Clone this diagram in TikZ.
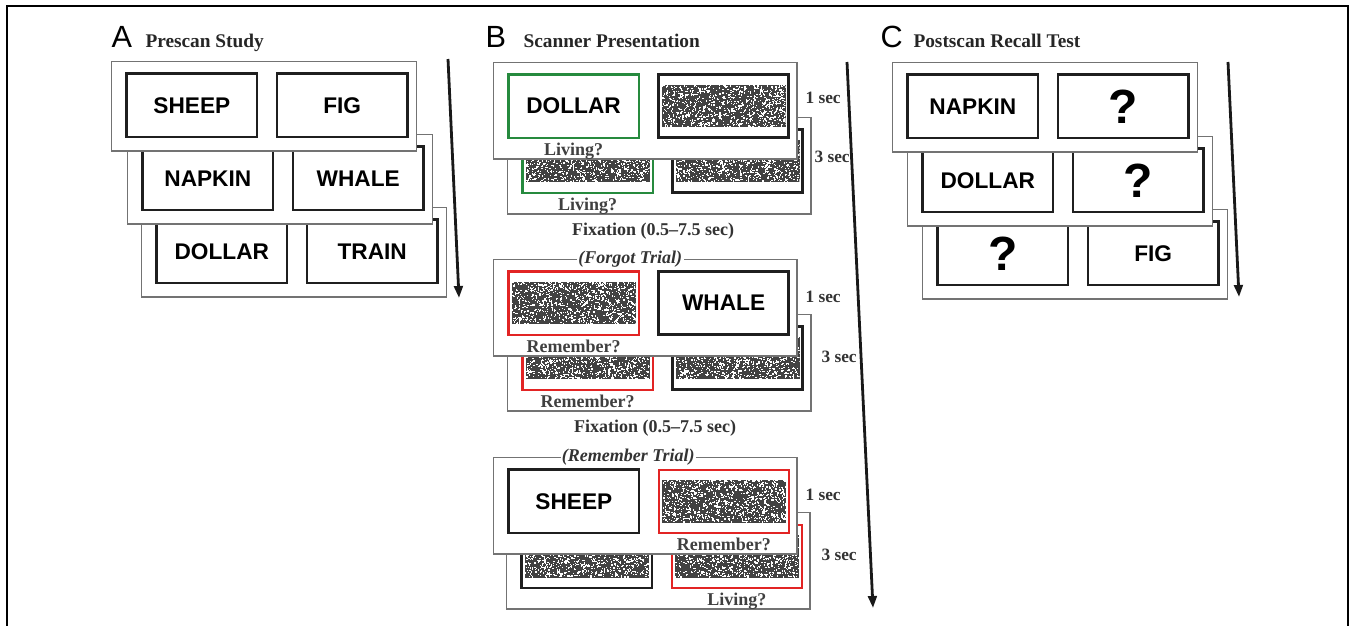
\documentclass[tikz,border=0pt]{standalone}
\usepackage{fontspec}
\setmainfont{Liberation Serif}
\setsansfont{Liberation Sans}
\usetikzlibrary{positioning,arrows.meta}

\definecolor{cuegreen}{RGB}{38,138,62}
\definecolor{cuered}{RGB}{226,36,36}

\tikzset{every picture/.style={line width=0.75pt},
  studycard/.style={draw=black!55, line width=0.9pt, fill=white, anchor=north west, inner sep=0pt, minimum width=228.5pt, minimum height=67pt},
  scancard/.style={studycard, minimum width=227.5pt, minimum height=72.25pt},
  wordbox/.style={draw=black!88, line width=2.1pt, fill=white, inner sep=0pt, minimum width=97.75pt, minimum height=47.5pt, font=\sffamily\bfseries\fontsize{17}{17}\selectfont},
  livingbox/.style={wordbox, draw=cuegreen, line width=1.7pt},
  memorybox/.style={wordbox, draw=cuered, line width=1.7pt},
  query/.style={font=\sffamily\bfseries\fontsize{36}{36}\selectfont},
  noise/.style={minimum width=93pt, minimum height=32pt, inner sep=0pt, fill=black!74,
    path picture={
      \foreach \k in {1,...,950}{
        \pgfmathsetmacro\nx{rnd*93}
        \pgfmathsetmacro\ny{rnd*32}
        \fill[white] ([shift={(\nx pt,\ny pt)}]path picture bounding box.south west) rectangle ++(0.95pt,0.95pt);
      }
    }},
  cue/.style={font=\bfseries\fontsize{13.5}{14}\selectfont, text=black!75, inner sep=0.5pt},
  triallabel/.style={font=\bfseries\itshape\fontsize{13.5}{14}\selectfont, text=black!80, fill=white, inner sep=1pt},
  timing/.style={anchor=base west, font=\bfseries\fontsize{13}{13}\selectfont, text=black!80, inner sep=0pt},
  panel/.style={anchor=base west, font=\sffamily\fontsize{23}{23}\selectfont, inner sep=0pt},
  paneltitle/.style={anchor=base west, font=\bfseries\fontsize{14.5}{15}\selectfont, text=black!85, inner sep=0pt},
  timeline/.style={line width=2.1pt, black!90, -{Triangle[length=9pt,width=6.5pt]}}
}

\begin{document}
\begin{tikzpicture}[x=0.75pt,y=-0.75pt]
\pgfmathsetseed{4711}
\useasboundingbox (0,0) rectangle (1355,625);

% Frame
\draw [line width=1.5pt] (7,626) -- (7,6) -- (1348,6) -- (1348,626);

%% ---------------- A: Prescan Study ----------------
\node [panel] (lblA) at (111,47) {A};
\node [paneltitle] (ttlA) at (145,47) {Prescan Study};

% Card 3
\node [studycard] (a3) at (141,207) {};
\node [wordbox, below right=8.5pt and 10.7pt of a3.north west] (a3l) {DOLLAR};
\node [wordbox, right=12.9pt of a3l] (a3r) {TRAIN};
% Card 2
\node [studycard] (a2) at (127,134) {};
\node [wordbox, below right=8.5pt and 10.7pt of a2.north west] (a2l) {NAPKIN};
\node [wordbox, right=12.9pt of a2l] (a2r) {WHALE};
% Card 1
\node [studycard] (a1) at (111,61) {};
\node [wordbox, below right=8.5pt and 10.7pt of a1.north west] (a1l) {SHEEP};
\node [wordbox, right=12.9pt of a1l] (a1r) {FIG};

% Time arrow
\coordinate (atop) at (448,59);
\coordinate (abot) at (459,298);
\draw [timeline] (atop) -- (abot);

%% ---------------- B: Scanner Presentation ----------------
\node [panel] (lblB) at (485,47) {B};
\node [paneltitle] (ttlB) at (523,47) {Scanner Presentation};

% Living trial, card 2
\node [scancard] (s1b) at (507,117) {};
\node [livingbox, below right=8.5pt and 10.7pt of s1b.north west] (s1bl) {};
\node [noise] (s1bln) at (s1bl) {};
\node [wordbox, right=12.9pt of s1bl] (s1br) {};
\node [noise] (s1brn) at (s1br) {};
\node [cue, below=2pt of s1bl] (s1bq) {Living?};
% Living trial, card 1
\node [scancard] (s1a) at (493,62) {};
\node [livingbox, below right=8.5pt and 10.7pt of s1a.north west] (s1al) {DOLLAR};
\node [wordbox, right=12.9pt of s1al] (s1ar) {};
\node [noise] (s1arn) at (s1ar) {};
\node [cue, below=2pt of s1al] (s1aq) {Living?};

% Forgot trial, card 2
\node [scancard] (s2b) at (507,314) {};
\node [memorybox, below right=8.5pt and 10.7pt of s2b.north west] (s2bl) {};
\node [noise] (s2bln) at (s2bl) {};
\node [wordbox, right=12.9pt of s2bl] (s2br) {};
\node [noise] (s2brn) at (s2br) {};
\node [cue, below=2pt of s2bl] (s2bq) {Remember?};
% Forgot trial, card 1
\node [scancard] (s2a) at (493,259) {};
\node [memorybox, below right=8.5pt and 10.7pt of s2a.north west] (s2al) {};
\node [noise] (s2aln) at (s2al) {};
\node [wordbox, right=12.9pt of s2al] (s2ar) {WHALE};
\node [cue, below=2pt of s2al] (s2aq) {Remember?};
\node [triallabel] (s2t) at ([xshift=-11.25pt]s2a.north) {(Forgot Trial)};

% Remember trial, card 2
\node [scancard] (s3b) at (506,512) {};
\node [wordbox, below right=8.5pt and 10.7pt of s3b.north west] (s3bl) {};
\node [noise] (s3bln) at (s3bl) {};
\node [memorybox, right=12.9pt of s3bl] (s3br) {};
\node [noise] (s3brn) at (s3br) {};
\node [cue, below=2pt of s3br] (s3bq) {Living?};
% Remember trial, card 1
\node [scancard] (s3a) at (493,457) {};
\node [wordbox, below right=8.5pt and 10.7pt of s3a.north west] (s3al) {SHEEP};
\node [memorybox, right=12.9pt of s3al] (s3ar) {};
\node [noise] (s3arn) at (s3ar) {};
\node [cue, below=2pt of s3ar] (s3aq) {Remember?};
\node [triallabel] (s3t) at ([xshift=-12.75pt]s3a.north) {(Remember Trial)};

% Timing
\node [timing] (t1a) at (805,103) {1 sec};
\node [timing] (t1b) at (814,162) {3 sec};
\node [timing] (t2a) at (805,302) {1 sec};
\node [timing] (t2b) at (821,362) {3 sec};
\node [timing] (t3a) at (805,500) {1 sec};
\node [timing] (t3b) at (821,560) {3 sec};
\node [cue, anchor=base, text=black!80] (fix1) at (653,235) {Fixation (0.5--7.5 sec)};
\node [cue, anchor=base, text=black!80] (fix2) at (655,432) {Fixation (0.5--7.5 sec)};

% Time arrow
\coordinate (btop) at (847,62);
\coordinate (bbot) at (873,608);
\draw [timeline] (btop) -- (bbot);

%% ---------------- C: Postscan Recall Test ----------------
\node [panel] (lblC) at (880,47) {C};
\node [paneltitle] (ttlC) at (913,47) {Postscan Recall Test};

% Card 3
\node [studycard] (c3) at (922,209) {};
\node [wordbox, query, below right=8.5pt and 10.7pt of c3.north west] (c3l) {?};
\node [wordbox, right=12.9pt of c3l] (c3r) {FIG};
% Card 2
\node [studycard] (c2) at (907,136) {};
\node [wordbox, below right=8.5pt and 10.7pt of c2.north west] (c2l) {DOLLAR};
\node [wordbox, query, right=12.9pt of c2l] (c2r) {?};
% Card 1
\node [studycard] (c1) at (892,62) {};
\node [wordbox, below right=8.5pt and 10.7pt of c1.north west] (c1l) {NAPKIN};
\node [wordbox, query, right=12.9pt of c1l] (c1r) {?};

% Time arrow
\coordinate (ctop) at (1228,62);
\coordinate (cbot) at (1239,297);
\draw [timeline] (ctop) -- (cbot);

\end{tikzpicture}
\end{document}
